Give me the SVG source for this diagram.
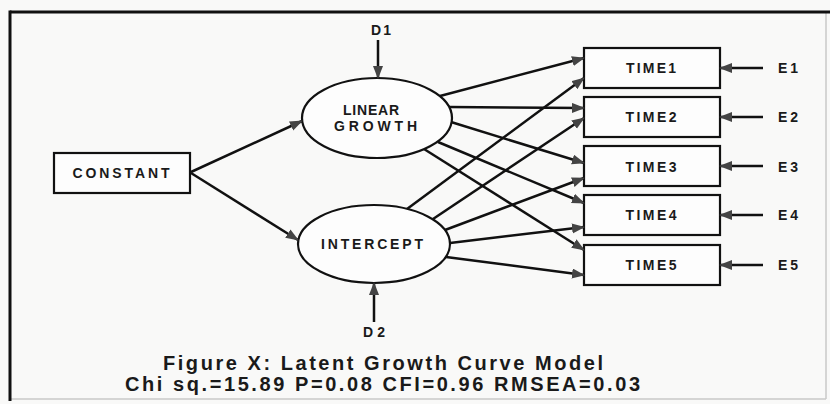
<svg xmlns="http://www.w3.org/2000/svg" width="830" height="404" viewBox="0 0 830 404">
<style>
.bg{fill:#f9f9f8}
.frame{stroke:#111;stroke-width:3;fill:none}
.frame2{stroke:#c8c8c8;stroke-width:1.5;fill:none}
.box{fill:#fdfdfd;stroke:#111;stroke-width:2.2}
.ell{fill:#fdfdfd;stroke:#111;stroke-width:2.2}
.lbl{font-family:"Liberation Sans",Arial,sans-serif;font-weight:bold;font-size:14px;fill:#1a1a1a;text-anchor:middle}
.cap{font-family:"Liberation Sans",Arial,sans-serif;font-weight:bold;font-size:20px;fill:#1a1a1a;text-anchor:middle}
.conn line{stroke:#111;stroke-width:2.5;marker-end:url(#ah)}
</style>
<defs>
<marker id="ah" markerUnits="userSpaceOnUse" markerWidth="15" markerHeight="11" refX="12" refY="5" orient="auto">
<path d="M0,0 L13,5 L0,10 Z" fill="#444"/>
</marker>
</defs>
<rect class="bg" x="0" y="0" width="830" height="404"/>
<g id="frame">
<line class="frame2" x1="826" y1="12" x2="826" y2="399"/>
<line class="frame2" x1="10" y1="399" x2="826" y2="399"/>
<line class="frame" x1="10" y1="12" x2="830" y2="12"/>
<line class="frame" x1="10" y1="10.5" x2="10" y2="401"/>
</g>
<g id="constant">
<rect class="box" x="54" y="153" width="136" height="40"/>
<text class="lbl" x="121" y="178" textLength="97" lengthAdjust="spacing">CONSTANT</text>
</g>
<g id="linear-growth">
<ellipse class="ell" cx="377" cy="118" rx="75" ry="40"/>
<text class="lbl" x="371" y="115" textLength="56" lengthAdjust="spacing">LINEAR</text>
<text class="lbl" x="375.5" y="131" textLength="83" lengthAdjust="spacing">GROWTH</text>
</g>
<g id="intercept">
<ellipse class="ell" cx="374" cy="244" rx="76" ry="39"/>
<text class="lbl" x="372" y="249" textLength="102" lengthAdjust="spacing">INTERCEPT</text>
</g>
<g id="d1"><text class="lbl" x="381" y="35" textLength="20" lengthAdjust="spacing">D1</text></g>
<g id="d2"><text class="lbl" x="374" y="337" textLength="22" lengthAdjust="spacing">D2</text></g>
<g id="time1">
<rect class="box" x="584" y="48" width="136" height="40"/>
<text class="lbl" x="651" y="73" textLength="50" lengthAdjust="spacing">TIME1</text>
</g>
<g id="time2">
<rect class="box" x="584" y="97" width="136" height="40"/>
<text class="lbl" x="651" y="122" textLength="51" lengthAdjust="spacing">TIME2</text>
</g>
<g id="time3">
<rect class="box" x="584" y="146" width="136" height="40"/>
<text class="lbl" x="651" y="171.5" textLength="51" lengthAdjust="spacing">TIME3</text>
</g>
<g id="time4">
<rect class="box" x="584" y="195" width="136" height="40"/>
<text class="lbl" x="651" y="220" textLength="51" lengthAdjust="spacing">TIME4</text>
</g>
<g id="time5">
<rect class="box" x="584" y="245" width="136" height="40"/>
<text class="lbl" x="651" y="270" textLength="51" lengthAdjust="spacing">TIME5</text>
</g>
<g id="e1"><text class="lbl" x="788" y="73" textLength="20" lengthAdjust="spacing">E1</text></g>
<g id="e2"><text class="lbl" x="788" y="122" textLength="20" lengthAdjust="spacing">E2</text></g>
<g id="e3"><text class="lbl" x="788" y="171.5" textLength="20" lengthAdjust="spacing">E3</text></g>
<g id="e4"><text class="lbl" x="788" y="220" textLength="20" lengthAdjust="spacing">E4</text></g>
<g id="e5"><text class="lbl" x="788" y="270" textLength="20" lengthAdjust="spacing">E5</text></g>
<g id="connectors" class="conn">
<line x1="191" y1="172" x2="302" y2="121"/>
<line x1="191" y1="173" x2="298" y2="240"/>
<line x1="378" y1="40" x2="378" y2="78"/>
<line x1="374" y1="322" x2="374" y2="283"/>
<line x1="440" y1="96" x2="584" y2="58"/>
<line x1="449" y1="107" x2="584" y2="108"/>
<line x1="451" y1="122" x2="584" y2="163"/>
<line x1="438" y1="142" x2="584" y2="203"/>
<line x1="424" y1="149" x2="584" y2="250"/>
<line x1="407" y1="209" x2="584" y2="78"/>
<line x1="433" y1="219" x2="584" y2="118"/>
<line x1="445" y1="230" x2="584" y2="178"/>
<line x1="450" y1="243" x2="584" y2="227"/>
<line x1="446" y1="257" x2="584" y2="275"/>
<line x1="763" y1="68" x2="720" y2="68"/>
<line x1="763" y1="117" x2="720" y2="117"/>
<line x1="763" y1="166" x2="720" y2="166"/>
<line x1="763" y1="215" x2="720" y2="215"/>
<line x1="763" y1="265" x2="720" y2="265"/>
</g>
<g id="caption">
<text class="cap" x="383" y="370" textLength="440" lengthAdjust="spacing">Figure X: Latent Growth Curve Model</text>
<text class="cap" x="382.5" y="391" textLength="515" lengthAdjust="spacing">Chi sq.=15.89 P=0.08 CFI=0.96 RMSEA=0.03</text>
</g>
</svg>
